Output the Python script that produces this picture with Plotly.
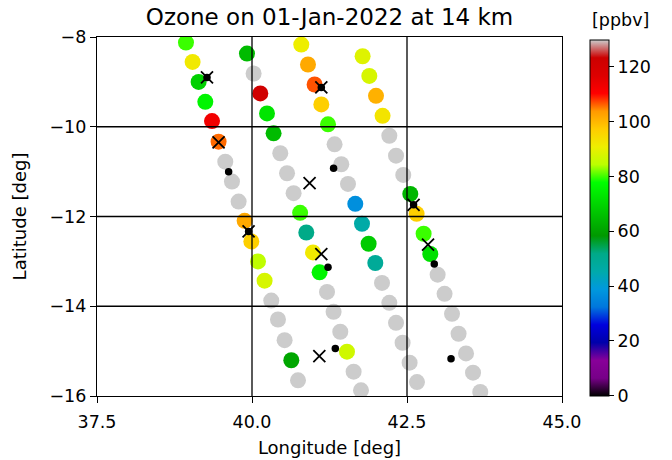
import plotly.graph_objects as go

# ---------------- data ----------------
track1_lon = [38.935, 39.042, 39.139, 39.247, 39.355, 39.461, 39.569, 39.677, 39.784,
              39.881, 39.989, 40.097, 40.203, 40.311, 40.419, 40.526, 40.634, 40.742]
track1_lat = [-8.124, -8.556, -9.000, -9.444, -9.873, -10.333, -10.778, -11.222, -11.667,
              -12.096, -12.556, -13.000, -13.429, -13.873, -14.296, -14.756, -15.204, -15.651]
track1_o3 = [80, 92, 69, 76, 113, 106, 135, 135, 135, 102, 97, 85, 88, 135, 135, 135, 61, 135]

track2_lon = [39.919, 40.026, 40.134, 40.242, 40.348, 40.456, 40.565, 40.671, 40.776,
              40.876, 40.984, 41.090, 41.210, 41.316, 41.424, 41.532, 41.639, 41.758]
track2_lat = [-8.369, -8.813, -9.258, -9.702, -10.147, -10.591, -11.036, -11.480, -11.918,
              -12.356, -12.800, -13.244, -13.680, -14.124, -14.569, -15.013, -15.458, -15.873]
track2_o3 = [65, 135, 122, 73, 65, 135, 135, 135, 80, 52, 92, 76, 135, 135, 135, 87, 135, 135]

track3_lon = [40.795, 40.903, 41.010, 41.118, 41.226, 41.332, 41.440, 41.548, 41.666,
              41.774, 41.881, 41.989, 42.097, 42.215, 42.323, 42.429, 42.542, 42.661]
track3_lat = [-8.169, -8.613, -9.058, -9.502, -9.947, -10.391, -10.836, -11.273, -11.718,
              -12.162, -12.607, -13.036, -13.480, -13.924, -14.369, -14.813, -15.258, -15.689]
track3_o3 = [91, 102, 107, 97, 80, 135, 135, 135, 37, 46, 68, 49, 135, 135, 135, 135, 135, 135]

track4_lon = [41.784, 41.892, 42.000, 42.106, 42.215, 42.323, 42.440, 42.553, 42.655,
              42.768, 42.876, 42.994, 43.106, 43.226, 43.332, 43.452, 43.565, 43.682]
track4_lat = [-8.429, -8.867, -9.311, -9.756, -10.200, -10.644, -11.073, -11.496, -11.940,
              -12.384, -12.836, -13.296, -13.724, -14.169, -14.613, -15.051, -15.480, -15.911]
track4_o3 = [89, 88, 101, 93, 135, 135, 135, 64, 97, 80, 72, 135, 135, 135, 135, 135, 135, 135]

xmark_lon = [39.274, 39.461, 40.929, 41.118, 41.118, 41.086, 42.606, 42.839, 39.945]
xmark_lat = [-8.902, -10.347, -11.258, -9.124, -12.836, -15.111, -11.740, -12.629, -12.333]

dot_lon = [39.274, 39.623, 41.118, 41.316, 41.226, 41.344, 42.606, 42.940, 43.210, 39.945]
dot_lat = [-8.902, -11.000, -9.124, -10.924, -13.133, -14.940, -11.740, -13.058, -15.169, -12.333]

x_ticks = [37.5, 40.0, 42.5, 45.0]
x_ticklabels = ["37.5", "40.0", "42.5", "45.0"]
y_ticks = [-16, -14, -12, -10, -8]
cbar_ticks = [0, 20, 40, 60, 80, 100, 120]
cmin, cmax = 0, 130

title_text = "Ozone on 01-Jan-2022 at 14 km"
xlabel = "Longitude [deg]"
ylabel = "Latitude [deg]"
cbar_title = "[ppbv]"

# nipy_spectral colormap nodes
ns_pos = [0.0, 0.05, 0.10, 0.15, 0.20, 0.25, 0.30, 0.35, 0.40, 0.45, 0.50,
          0.55, 0.60, 0.65, 0.70, 0.75, 0.80, 0.85, 0.90, 0.95, 1.0]
ns_r = [0.0, 0.4667, 0.5333, 0.0, 0.0, 0.0, 0.0, 0.0, 0.0, 0.0, 0.0,
        0.0, 0.0, 0.7333, 0.9333, 1.0, 1.0, 1.0, 0.8667, 0.80, 0.80]
ns_g = [0.0, 0.0, 0.0, 0.0, 0.0, 0.4667, 0.6000, 0.6667, 0.6667, 0.6000, 0.7333,
        0.8667, 1.0, 1.0, 0.9333, 0.8000, 0.6000, 0.0, 0.0, 0.0, 0.80]
ns_b = [0.0, 0.5333, 0.6000, 0.6667, 0.8667, 0.8667, 0.8667, 0.6667, 0.5333, 0.0, 0.0,
        0.0, 0.0, 0.0, 0.0, 0.0, 0.0, 0.0, 0.0, 0.0, 0.80]
colorscale = [[p, "rgb(%d,%d,%d)" % (round(r * 255), round(g * 255), round(b * 255))]
              for p, r, g, b in zip(ns_pos, ns_r, ns_g, ns_b)]

# ---------------- figure ----------------
FONT = "DejaVu Sans"
lon = track1_lon + track2_lon + track3_lon + track4_lon
lat = track1_lat + track2_lat + track3_lat + track4_lat
o3 = track1_o3 + track2_o3 + track3_o3 + track4_o3

CB_X = 1.0602

fig = go.Figure()
fig.add_trace(go.Scatter(
    x=lon, y=lat, mode="markers",
    marker=dict(size=16, color=o3, colorscale=colorscale, cmin=cmin, cmax=cmax,
                line=dict(width=0),
                colorbar=dict(
                    x=CB_X, xanchor="left", xpad=0, ypad=0,
                    y=0.497, yanchor="middle", len=0.993, lenmode="fraction",
                    thickness=19, outlinecolor="black", outlinewidth=1,
                    tickvals=cbar_ticks, ticks="outside", ticklen=5, tickwidth=1.2,
                    tickcolor="black",
                    tickfont=dict(family=FONT, size=17.5, color="black"),
                )),
    showlegend=False, hoverinfo="skip"))
fig.add_trace(go.Scatter(
    x=xmark_lon, y=xmark_lat, mode="markers",
    marker=dict(symbol="x-thin", size=12, line=dict(width=1.8, color="black"), color="black"),
    showlegend=False, hoverinfo="skip"))
fig.add_trace(go.Scatter(
    x=dot_lon, y=dot_lat, mode="markers",
    marker=dict(symbol="circle", size=7.5, color="black", line=dict(width=0)),
    showlegend=False, hoverinfo="skip"))

# grid lines drawn above the markers (as in the reference)
for xv in x_ticks[1:-1]:
    fig.add_shape(type="line", xref="x", yref="paper", x0=xv, x1=xv, y0=0, y1=1,
                  line=dict(color="black", width=1.3), layer="above")
for yv in y_ticks[1:-1]:
    fig.add_shape(type="line", xref="paper", yref="y", x0=0, x1=1, y0=yv, y1=yv,
                  line=dict(color="black", width=1.3), layer="above")

# colorbar unit label above the bar
fig.add_annotation(text=cbar_title, xref="paper", yref="paper", x=CB_X - 0.001, y=1.046,
                   xanchor="left", yanchor="middle", showarrow=False,
                   font=dict(family=FONT, size=17.5, color="black"))

axis_common = dict(showgrid=False, zeroline=False, showline=True, mirror=True,
                   linecolor="black", linewidth=1.3, ticks="outside", ticklen=6,
                   tickwidth=1.3, tickcolor="black", layer="above traces",
                   tickfont=dict(family=FONT, size=17.5, color="black"))

fig.update_xaxes(range=[x_ticks[0], x_ticks[-1]], tickvals=x_ticks, ticktext=x_ticklabels,
                 ticklabelstandoff=4,
                 title=dict(text=xlabel, standoff=10, font=dict(family=FONT, size=18, color="black")),
                 **axis_common)
fig.update_yaxes(range=[y_ticks[0], y_ticks[-1]], tickvals=y_ticks,
                 ticktext=["\u2212%d" % abs(v) for v in y_ticks],
                 title=dict(text=ylabel, standoff=18, font=dict(family=FONT, size=18, color="black")),
                 **axis_common)

fig.update_layout(
    width=672, height=460,
    margin=dict(l=97, r=110, t=37, b=64, autoexpand=False),
    paper_bgcolor="white", plot_bgcolor="white",
    font=dict(family=FONT, color="black"),
    title=dict(text=title_text, x=0.5, xref="paper", xanchor="center",
               y=1 - 17 / 460, yref="container", yanchor="middle",
               font=dict(family=FONT, size=23, color="black")),
)

fig.write_html("out.html")
